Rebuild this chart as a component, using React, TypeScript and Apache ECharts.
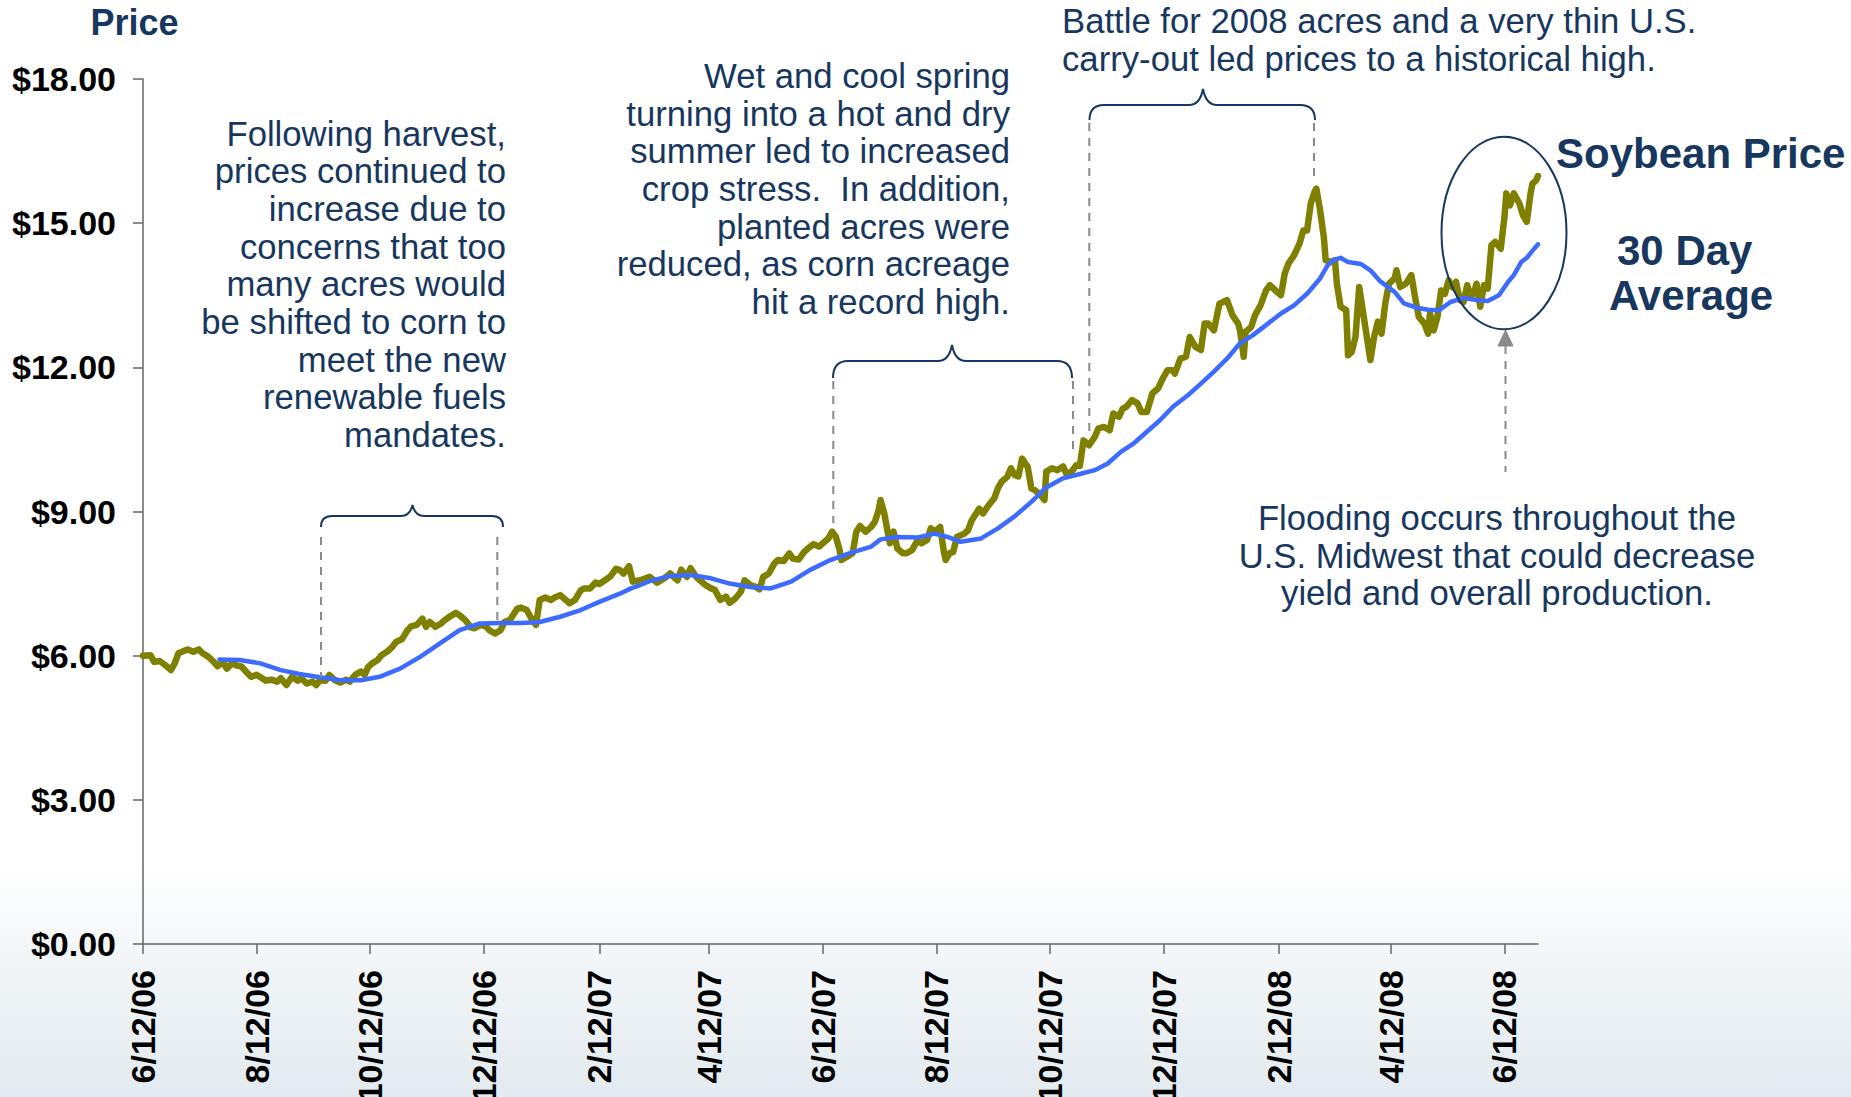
import React, { useEffect, useRef } from "react";
import * as echarts from "echarts";

const FONT = "'Liberation Sans', Arial, Helvetica, sans-serif";
const NAVY = "#17375E";
const GRAY = "#8a8a8a";

// x values are days since 6/12/06
const tickDays = [0, 61, 122, 183, 245, 304, 365, 426, 487, 548, 610, 670, 731];
const tickLabels = ["6/12/06", "8/12/06", "10/12/06", "12/12/06", "2/12/07", "4/12/07", "6/12/07", "8/12/07", "10/12/07", "12/12/07", "2/12/08", "4/12/08", "6/12/08"];

const priceDays = [
  0, 4, 6, 9, 12, 15, 17, 19, 22, 24, 27, 30, 32, 35, 38, 40, 43, 45, 48, 50,
  53, 56, 58, 61, 64, 66, 69, 72, 74, 77, 80, 83, 85, 88, 91, 93, 95, 98, 100, 103,
  106, 109, 111, 114, 117, 119, 121, 123, 126, 128, 131, 134, 136, 139, 142, 144, 147, 150, 152, 154,
  157, 160, 162, 165, 168, 170, 173, 176, 178, 181, 184, 186, 189, 192, 194, 197, 201, 203, 206, 209,
  211, 213, 216, 219, 221, 224, 227, 229, 232, 235, 237, 240, 243, 245, 248, 251, 254, 256, 258, 261,
  263, 267, 272, 276, 280, 283, 287, 289, 292, 294, 297, 299, 302, 305, 307, 310, 313, 315, 318, 321,
  323, 326, 329, 331, 333, 336, 339, 341, 344, 347, 349, 352, 355, 357, 360, 363, 365, 368, 370, 372,
  374, 375, 378, 381, 383, 385, 388, 391, 393, 395, 396, 398, 400, 401, 403, 405, 408, 410, 413, 416,
  418, 421, 423, 425, 428, 430, 431, 433, 435, 437, 441, 443, 445, 449, 451, 454, 457, 459, 461, 464,
  466, 468, 470, 472, 475, 477, 479, 482, 484, 485, 488, 491, 494, 496, 499, 501, 503, 505, 508, 511,
  513, 516, 519, 521, 524, 526, 528, 531, 534, 536, 539, 542, 545, 547, 550, 553, 554, 557, 560, 562,
  565, 568, 570, 572, 575, 578, 580, 582, 585, 588, 589, 591, 592, 595, 597, 600, 603, 605, 608, 611,
  613, 615, 618, 621, 623, 625, 627, 629, 630, 632, 634, 635, 638, 640, 641, 643, 646, 647, 649, 651,
  653, 656, 659, 661, 663, 665, 667, 669, 672, 673, 675, 678, 681, 683, 685, 688, 690, 691, 693, 695,
  697, 699, 701, 703, 705, 707, 709, 711, 713, 715, 716, 718, 720, 722, 724, 726, 729, 731, 732, 734,
  736, 739, 741, 743, 745, 746, 748, 749,
];
const priceValues = [
  6.0, 6.01, 5.87, 5.89, 5.8, 5.7, 5.84, 6.05, 6.1, 6.13, 6.08, 6.13, 6.05, 5.98, 5.87, 5.78, 5.87, 5.73, 5.85, 5.8,
  5.77, 5.64, 5.56, 5.6, 5.53, 5.48, 5.5, 5.46, 5.53, 5.39, 5.56, 5.48, 5.53, 5.42, 5.46, 5.39, 5.49, 5.48, 5.6, 5.49,
  5.44, 5.5, 5.46, 5.6, 5.67, 5.6, 5.77, 5.84, 5.91, 6.01, 6.08, 6.19, 6.29, 6.34, 6.53, 6.61, 6.64, 6.77, 6.6, 6.7,
  6.6, 6.67, 6.74, 6.82, 6.89, 6.84, 6.74, 6.59, 6.57, 6.64, 6.61, 6.53, 6.46, 6.53, 6.7, 6.74, 6.98, 7.0, 6.95, 6.74,
  6.64, 7.16, 7.21, 7.16, 7.21, 7.26, 7.16, 7.09, 7.16, 7.36, 7.4, 7.4, 7.52, 7.49, 7.57, 7.65, 7.81, 7.78, 7.71, 7.86,
  7.54, 7.57, 7.64, 7.52, 7.61, 7.71, 7.57, 7.79, 7.64, 7.82, 7.64, 7.57, 7.47, 7.4, 7.37, 7.16, 7.23, 7.1, 7.19, 7.33,
  7.57, 7.47, 7.43, 7.38, 7.64, 7.71, 7.92, 7.99, 7.97, 8.13, 8.02, 8.0, 8.16, 8.23, 8.32, 8.27, 8.34, 8.44, 8.58, 8.47,
  8.2, 7.99, 8.06, 8.13, 8.58, 8.7, 8.58, 8.68, 8.79, 9.03, 9.24, 8.96, 8.54, 8.34, 8.58, 8.23, 8.13, 8.13, 8.2, 8.41,
  8.34, 8.41, 8.65, 8.58, 8.68, 8.16, 7.99, 8.13, 8.16, 8.47, 8.54, 8.61, 8.82, 9.06, 8.96, 9.13, 9.27, 9.48, 9.62, 9.72,
  9.9, 9.76, 9.73, 10.1, 9.93, 9.48, 9.44, 9.34, 9.24, 9.83, 9.9, 9.86, 9.94, 9.76, 9.85, 9.96, 9.95, 10.48, 10.38, 10.55,
  10.73, 10.76, 10.69, 11.04, 10.97, 11.14, 11.18, 11.32, 11.25, 11.07, 11.07, 11.46, 11.56, 11.73, 11.94, 11.94, 11.87, 12.18, 12.22, 12.63,
  12.43, 12.36, 12.91, 12.91, 12.77, 13.33, 13.36, 13.4, 13.08, 12.91, 12.77, 12.22, 12.74, 12.84, 13.08, 13.29, 13.6, 13.71, 13.6, 13.5,
  13.95, 14.16, 14.33, 14.58, 14.85, 14.85, 15.41, 15.65, 15.72, 15.27, 14.71, 14.23, 14.19, 14.23, 13.74, 13.26, 13.19, 12.25, 12.32, 12.63,
  13.67, 12.91, 12.15, 12.63, 12.95, 12.7, 13.33, 13.74, 13.85, 14.02, 13.67, 13.74, 13.92, 13.46, 13.05, 12.91, 12.7, 13.12, 12.77, 13.05,
  13.6, 13.53, 13.81, 13.67, 13.78, 13.4, 13.36, 13.71, 13.46, 13.6, 13.74, 13.26, 13.71, 13.64, 14.54, 14.61, 14.47, 15.13, 15.62, 15.37,
  15.62, 15.41, 15.16, 15.03, 15.62, 15.82, 15.89, 15.98,
];

const avgDays = [
  41, 52, 63, 74, 84, 95, 106, 117, 127, 138, 149, 160, 170, 181, 192, 203, 213, 224, 235, 245,
  256, 262, 267, 272, 283, 294, 305, 315, 326, 337, 348, 358, 369, 380, 391, 396, 405, 416, 425, 432,
  439, 450, 459, 468, 477, 485, 494, 503, 511, 518, 525, 532, 539, 546, 553, 561, 568, 575, 582, 589,
  596, 604, 611, 618, 625, 632, 636, 639, 643, 647, 654, 659, 664, 672, 677, 684, 690, 696, 702, 709,
  716, 722, 728, 733, 736, 740, 743, 747, 749,
];
const avgValues = [
  5.92, 5.91, 5.84, 5.7, 5.62, 5.55, 5.49, 5.49, 5.56, 5.73, 5.98, 6.27, 6.53, 6.67, 6.68, 6.68, 6.7, 6.81, 6.95, 7.12,
  7.29, 7.4, 7.47, 7.55, 7.66, 7.68, 7.61, 7.5, 7.43, 7.4, 7.54, 7.78, 7.99, 8.14, 8.27, 8.42, 8.47, 8.46, 8.54, 8.47,
  8.37, 8.44, 8.65, 8.9, 9.2, 9.5, 9.69, 9.78, 9.86, 10.0, 10.24, 10.42, 10.66, 10.9, 11.18, 11.42, 11.66, 11.91, 12.18, 12.5,
  12.67, 12.91, 13.12, 13.29, 13.53, 13.85, 14.12, 14.23, 14.28, 14.19, 14.15, 14.02, 13.8, 13.57, 13.33, 13.24, 13.2, 13.19, 13.36, 13.44,
  13.4, 13.38, 13.5, 13.78, 13.92, 14.19, 14.28, 14.47, 14.56,
];

const note1 = ["Following harvest,", "prices continued to", "increase due to", "concerns that too", "many acres would", "be shifted to corn to", "meet the new", "renewable fuels", "mandates."];
const note2 = ["Wet and cool spring", "turning into a hot and dry", "summer led to increased", "crop stress.  In addition,", "planted acres were", "reduced, as corn acreage", "hit a record high."];
const note3 = ["Battle for 2008 acres and a very thin U.S.", "carry-out led prices to a historical high."];
const note4 = ["Flooding occurs throughout the", "U.S. Midwest that could decrease", "yield and overall production."];

echarts.graphic.registerShape(
  "brace1",
  echarts.graphic.extendPath("M321 527 Q321 516 332 516 L401 516 Q410 516 412.5 505 Q415 516 424 516 L492 516 Q503 516 503 527", {})
);
echarts.graphic.registerShape(
  "brace2",
  echarts.graphic.extendPath("M833 378 Q833 361 848 361 L938 361 Q949 361 952 345 Q955 361 966 361 L1057 361 Q1072 361 1072 378", {})
);
echarts.graphic.registerShape(
  "brace3",
  echarts.graphic.extendPath("M1089.5 120 Q1089.5 105 1104 105 L1189 105 Q1200 105 1203 89 Q1206 105 1217 105 L1300 105 Q1315 105 1315 120", {})
);

function textLines(lines: string[], x: number, y0: number, step: number, align: string, size = 34.7, weight = "normal") {
  return lines.map((t, i) => ({
    type: "text",
    x,
    y: y0 + i * step,
    silent: true,
    z: 10,
    style: {
      text: t,
      fill: NAVY,
      fontSize: size,
      fontFamily: FONT,
      fontWeight: weight,
      align,
      verticalAlign: "middle",
    },
  }));
}

function dashed(x: number, y1: number, y2: number) {
  return {
    type: "line",
    silent: true,
    z: 5,
    shape: { x1: x, y1, x2: x, y2 },
    style: { stroke: GRAY, lineWidth: 2, lineDash: [8, 7] },
  };
}

export default function App() {
  const ref = useRef<HTMLDivElement>(null);

  useEffect(() => {
    document.body.style.margin = "0";
    if (!ref.current) return;
    const chart = echarts.init(ref.current, null, { renderer: "svg" });

    const axisColor = "#666666";
    const option: any = {
      animation: false,
      backgroundColor: "transparent",
      grid: { left: 143, right: 313, top: 79, bottom: 153, containLabel: false, outerBoundsMode: "none" },
      xAxis: {
        type: "value",
        min: 0,
        max: 749,
        axisLine: { show: true, lineStyle: { color: axisColor, width: 1.5 } },
        axisTick: { show: true, length: 10, customValues: tickDays, lineStyle: { color: axisColor, width: 1.5 } },
        axisLabel: {
          customValues: tickDays,
          rotate: 90,
          margin: 26,
          formatter: (v: number) => {
            const i = tickDays.indexOf(Math.round(v));
            return i >= 0 ? tickLabels[i] : "";
          },
          fontSize: 34,
          fontWeight: "bold",
          color: "#000",
          fontFamily: FONT,
        },
        splitLine: { show: false },
      },
      yAxis: {
        type: "value",
        min: 0,
        max: 18,
        interval: 3,
        axisLine: { show: true, lineStyle: { color: axisColor, width: 1.5 } },
        axisTick: { show: true, length: 10, lineStyle: { color: axisColor, width: 1.5 } },
        axisLabel: {
          margin: 27,
          formatter: (v: number) => "$" + v.toFixed(2),
          fontSize: 34,
          fontWeight: "bold",
          color: "#000",
          fontFamily: FONT,
        },
        splitLine: { show: false },
      },
      series: [
        {
          name: "Soybean Price",
          type: "line",
          data: priceDays.map((d, i) => [d, priceValues[i]]),
          showSymbol: false,
          symbol: "none",
          lineStyle: { color: "#808000", width: 6.5, join: "round", cap: "round" },
          z: 2,
        },
        {
          name: "30 Day Average",
          type: "line",
          data: avgDays.map((d, i) => [d, avgValues[i]]),
          showSymbol: false,
          symbol: "none",
          lineStyle: { color: "#3d6bff", width: 4.5, join: "round", cap: "round" },
          z: 3,
        },
      ],
      graphic: [
        ...textLines(["Price"], 134.5, 22.5, 0, "center", 36, "bold"),
        ...textLines(["Soybean Price"], 1556, 153.5, 0, "left", 42, "bold"),
        ...textLines(["30 Day"], 1617, 250.5, 0, "left", 42, "bold"),
        ...textLines(["Average"], 1609, 295.5, 0, "left", 42, "bold"),
        ...textLines(note1, 506, 133.5, 37.7, "right"),
        ...textLines(note2, 1010, 75.8, 37.7, "right"),
        ...textLines(note3, 1062, 21.2, 37.5, "left"),
        ...textLines(note4, 1497, 518, 37.7, "center"),
        { type: "brace1", silent: true, z: 6, style: { stroke: NAVY, fill: "none", lineWidth: 2 } },
        { type: "brace2", silent: true, z: 6, style: { stroke: NAVY, fill: "none", lineWidth: 2 } },
        { type: "brace3", silent: true, z: 6, style: { stroke: NAVY, fill: "none", lineWidth: 2 } },
        dashed(321, 537, 677),
        dashed(497.3, 537, 622),
        dashed(833.3, 381, 523),
        dashed(1073, 381, 453),
        dashed(1089.3, 123, 437),
        dashed(1314, 123, 183),
        dashed(1505.5, 346, 472),
        {
          type: "polygon",
          silent: true,
          z: 6,
          shape: { points: [[1505.5, 330], [1498, 346], [1513, 346]] },
          style: { fill: GRAY, stroke: GRAY, lineWidth: 1 },
        },
        {
          type: "ellipse",
          silent: true,
          z: 6,
          shape: { cx: 1504, cy: 233, rx: 62.5, ry: 96.3 },
          style: { stroke: NAVY, fill: "none", lineWidth: 2 },
        },
      ],
    };

    chart.setOption(option);
    return () => chart.dispose();
  }, []);

  return (
    <div
      ref={ref}
      style={{
        width: 1851,
        height: 1097,
        background:
          "linear-gradient(180deg, #ffffff 0%, #ffffff 79%, #f3f6f8 87%, #e9eff3 94%, #e3ebf0 100%)",
      }}
    />
  );
}
